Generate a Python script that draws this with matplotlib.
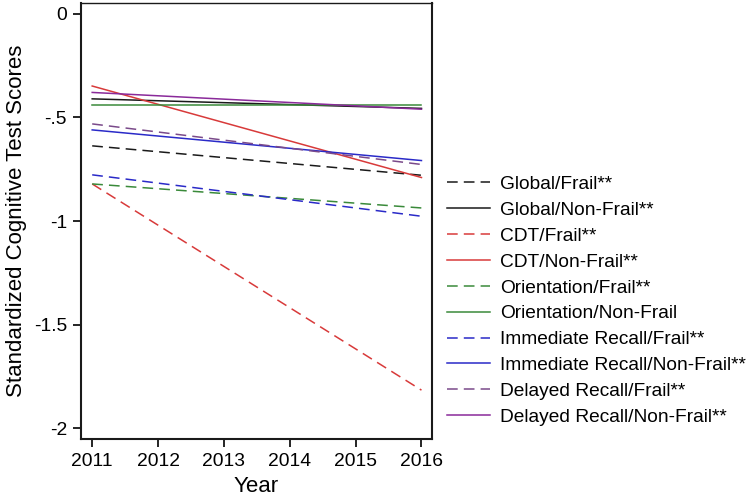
import matplotlib
matplotlib.use('Agg')
import matplotlib.pyplot as plt

plt.rcParams['font.family'] = ['Liberation Sans', 'DejaVu Sans']

# Data (fitted trends, start and end year)
years = [2011, 2016]
labels = ['Global/Frail**', 'Global/Non-Frail**', 'CDT/Frail**', 'CDT/Non-Frail**',
          'Orientation/Frail**', 'Orientation/Non-Frail',
          'Immediate Recall/Frail**', 'Immediate Recall/Non-Frail**',
          'Delayed Recall/Frail**', 'Delayed Recall/Non-Frail**']
global_frail = [-0.637, -0.779]
global_nonfrail = [-0.410, -0.456]
cdt_frail = [-0.821, -1.817]
cdt_nonfrail = [-0.348, -0.790]
orient_frail = [-0.821, -0.937]
orient_nonfrail = [-0.439, -0.439]
immed_frail = [-0.777, -0.977]
immed_nonfrail = [-0.560, -0.708]
delay_frail = [-0.531, -0.727]
delay_nonfrail = [-0.379, -0.460]

series = [global_frail, global_nonfrail, cdt_frail, cdt_nonfrail, orient_frail,
          orient_nonfrail, immed_frail, immed_nonfrail, delay_frail, delay_nonfrail]
colors = ['#1a1a1a', '#1a1a1a', '#d83a3a', '#d83a3a', '#3a8a3a', '#3a8a3a',
          '#2a2ac8', '#2a2ac8', '#7a4a8a', '#8a2a9a']
styles = ['dashed', 'solid'] * 5

fig = plt.figure(figsize=(7.5, 4.96), dpi=100)
ax = fig.add_axes([81 / 750, 1 - 439 / 496, 351 / 750, 436 / 496])

for vals, lab, col, ls in zip(series, labels, colors, styles):
    if ls == 'dashed':
        ax.plot(years, vals, color=col, lw=1.1, linestyle=(0, (7, 4)), label=lab)
    else:
        ax.plot(years, vals, color=col, lw=1.1, label=lab)

ax.set_xlim(2010.83, 2016.16)
ax.set_ylim(-2.053, 0.053)
ax.set_xticks(range(2011, 2017))
ax.set_yticks([0, -0.5, -1, -1.5, -2])
ax.set_yticklabels(['0', '-.5', '-1', '-1.5', '-2'])
ax.tick_params(labelsize=13.9, length=6, width=1.2, direction='out', pad=4)
for sp in ax.spines.values():
    sp.set_linewidth(1.5)
    sp.set_color('#1a1a1a')
ax.spines['top'].set_linewidth(1.0)

ax.set_xlabel('Year', fontsize=16, labelpad=4.5)
ax.set_ylabel('Standardized Cognitive Test Scores', fontsize=16, labelpad=5)

leg = ax.legend(loc='center left', bbox_to_anchor=(1.0, 0.317), frameon=False,
                fontsize=13.8, handlelength=2.25, handletextpad=0.52, labelspacing=0.44,
                borderaxespad=0.38)

fig.savefig('out.png', dpi=100)
